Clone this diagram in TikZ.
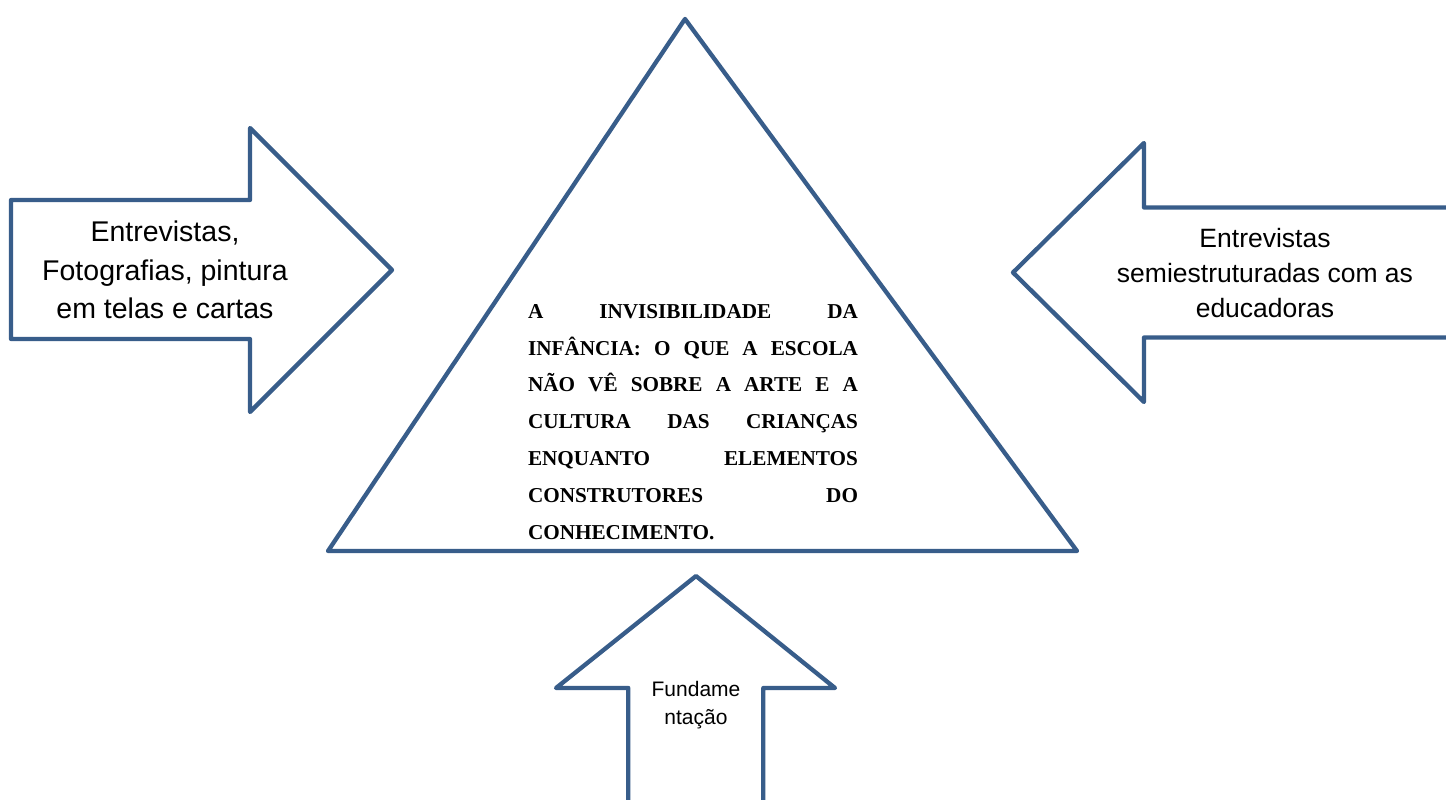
\documentclass[tikz,border=0pt]{standalone}
\usepackage{fontspec}
\setmainfont{Liberation Serif}
\setsansfont{Liberation Sans}
\definecolor{outl}{HTML}{385D8A}
\newcommand{\jline}[1]{\makebox[330pt][s]{#1}}
\begin{document}
\begin{tikzpicture}[x=1pt,y=-1pt,
  shapeline/.style={draw=outl,line width=4.3pt,line join=round,fill=white},
  armtext/.style={align=center,inner sep=0pt,font=\sffamily},
  tritext/.style={align=left,inner sep=0pt,font=\bfseries\fontsize{21.2}{36.9}\selectfont}]
\clip (0,0) rectangle (1446,800);
\fill[white] (0,0) rectangle (1446,800);
% triangle
\coordinate (apex) at (685,19);
\coordinate (br) at (1077,551);
\coordinate (bl) at (328,551);
\draw[shapeline] (apex) -- (br) -- (bl) -- cycle;
% left arrow
\draw[shapeline] (11,200) -- (250,200) -- (250,128) -- (392,270) -- (250,412) -- (250,339) -- (11,339) -- cycle;
% right arrow (open to the right)
\draw[shapeline] (1460,207.5) -- (1144,207.5) -- (1144,143) -- (1013,272.5) -- (1144,402) -- (1144,337.5) -- (1460,337.5);
% bottom arrow (open downward)
\draw[shapeline] (628.3,815) -- (628.3,688) -- (556,688) -- (696,576) -- (835,688) -- (763.3,688) -- (763.3,815);
% texts
\node[armtext,font=\sffamily\fontsize{28.5}{38.5}\selectfont] (lt) at (165,270) {Entrevistas,\\Fotografias, pintura\\em telas e cartas};
\node[armtext,font=\sffamily\fontsize{26.5}{35}\selectfont] (rt) at (1265,273) {Entrevistas\\semiestruturadas com as\\educadoras};
\node[armtext,font=\sffamily\fontsize{21}{27.5}\selectfont] (bt) at (696,705) {Fundame\\ntação};
\node[tritext] (tt) at (693,422) {\jline{A INVISIBILIDADE DA}\\\jline{INFÂNCIA: O QUE A ESCOLA}\\\jline{NÃO VÊ SOBRE A ARTE E A}\\\jline{CULTURA DAS CRIANÇAS}\\\jline{ENQUANTO ELEMENTOS}\\\jline{CONSTRUTORES DO}\\CONHECIMENTO.};
\end{tikzpicture}
\end{document}
